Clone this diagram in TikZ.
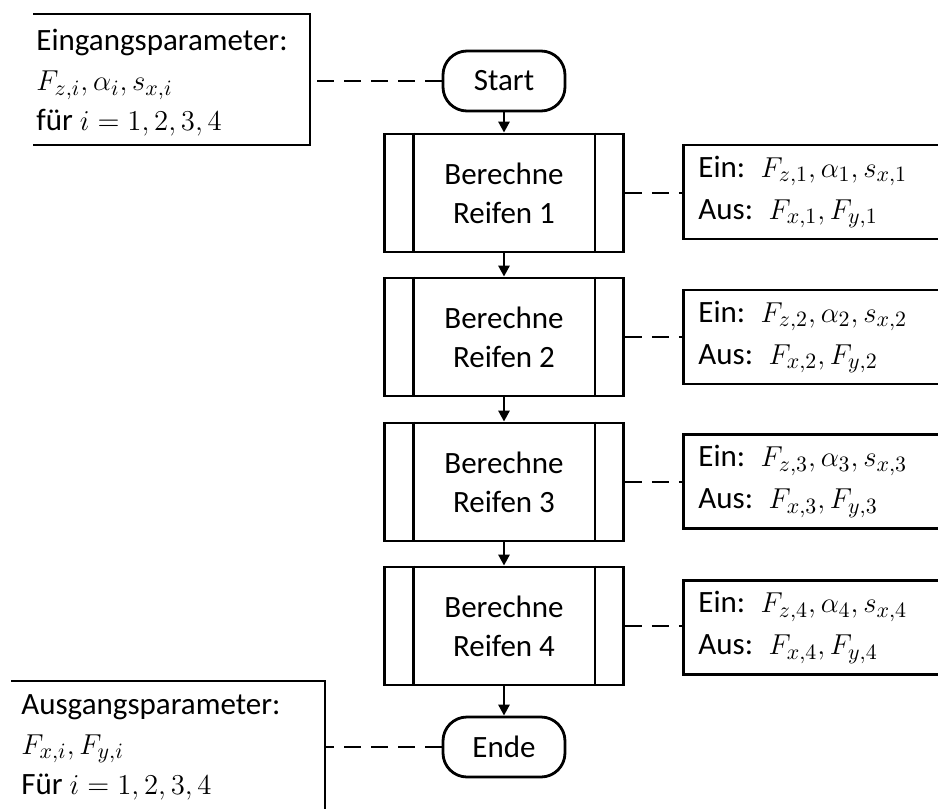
\documentclass[tikz,border=0pt]{standalone}
\usepackage{fontspec}
\setmainfont{Carlito}
\usetikzlibrary{arrows.meta}
\begin{document}
\begin{tikzpicture}[x=0.5pt,y=-0.5pt,
  line width=1.4pt,
  txt/.style={font=\fontsize{15.5}{19.5}\selectfont},
  term/.style={draw, rounded corners=12pt, minimum width=61pt, minimum height=30pt, inner sep=0pt, txt},
  proc/.style={draw, minimum width=119.5pt, minimum height=59pt, inner sep=0pt, align=center, txt},
  info/.style={draw, anchor=west, minimum height=47pt, text width=130pt, inner xsep=7.5pt, inner ysep=0pt, align=left, font=\fontsize{15.5}{21}\selectfont},
  param/.style={anchor=west, align=left, inner sep=0pt, font=\fontsize{15.5}{20}\selectfont},
  flow/.style={-{Triangle[length=5.5pt,width=5.5pt]}},
  assoc/.style={dash pattern=on 8.5pt off 5pt}]
\useasboundingbox (0,0) rectangle (938,809);
\clip (0,0) rectangle (938,809);

% main flow
\node[term] (start) at (504,81) {Start};
\node[proc] (b1) at (504,193) {Berechne\\Reifen 1};
\node[proc] (b2) at (504,337) {Berechne\\Reifen 2};
\node[proc] (b3) at (504,482) {Berechne\\Reifen 3};
\node[proc] (b4) at (504,626) {Berechne\\Reifen 4};
\node[term] (ende) at (504,747) {Ende};

\foreach \n in {b1,b2,b3,b4}{
  \draw ([xshift=15pt]\n.north west) -- ([xshift=15pt]\n.south west);
  \draw ([xshift=-15pt]\n.north east) -- ([xshift=-15pt]\n.south east);
}

\draw[flow] (start) -- (b1);
\draw[flow] (b1) -- (b2);
\draw[flow] (b2) -- (b3);
\draw[flow] (b3) -- (b4);
\draw[flow] (b4) -- (ende);

% info boxes
\node[info] (i1) at (682,192) {Ein: $F_{z,1}, \alpha_1, s_{x,1}$\\Aus: $F_{x,1}, F_{y,1}$};
\node[info] (i2) at (682,337) {Ein: $F_{z,2}, \alpha_2, s_{x,2}$\\Aus: $F_{x,2}, F_{y,2}$};
\node[info] (i3) at (682,481.5) {Ein: $F_{z,3}, \alpha_3, s_{x,3}$\\Aus: $F_{x,3}, F_{y,3}$};
\node[info] (i4) at (682,627.5) {Ein: $F_{z,4}, \alpha_4, s_{x,4}$\\Aus: $F_{x,4}, F_{y,4}$};

\draw[assoc] (b1.east) -- (b1.east -| i1.west);
\draw[assoc] (b2.east) -- (b2.east -| i2.west);
\draw[assoc] (b3.east) -- (b3.east -| i3.west);
\draw[assoc] (b4.east) -- (b4.east -| i4.west);

% input parameters
\node[param] (inp) at (35,83) {Eingangsparameter:\\$F_{z,i}, \alpha_i, s_{x,i}$\\für $i = 1, 2, 3, 4$};
\draw (33,14) -- (310,14) -- (310,145) -- (33,145);
\coordinate (inR) at (310,81);
\draw[assoc] (start.west) -- (inR);

% output parameters
\node[param] (outp) at (20,747) {Ausgangsparameter:\\$F_{x,i}, F_{y,i}$\\Für $i = 1, 2, 3, 4$};
\draw (11,681) -- (325,681) -- (325,830);
\coordinate (outR) at (325,747);
\draw[assoc] (ende.west) -- (outR);
\end{tikzpicture}
\end{document}
